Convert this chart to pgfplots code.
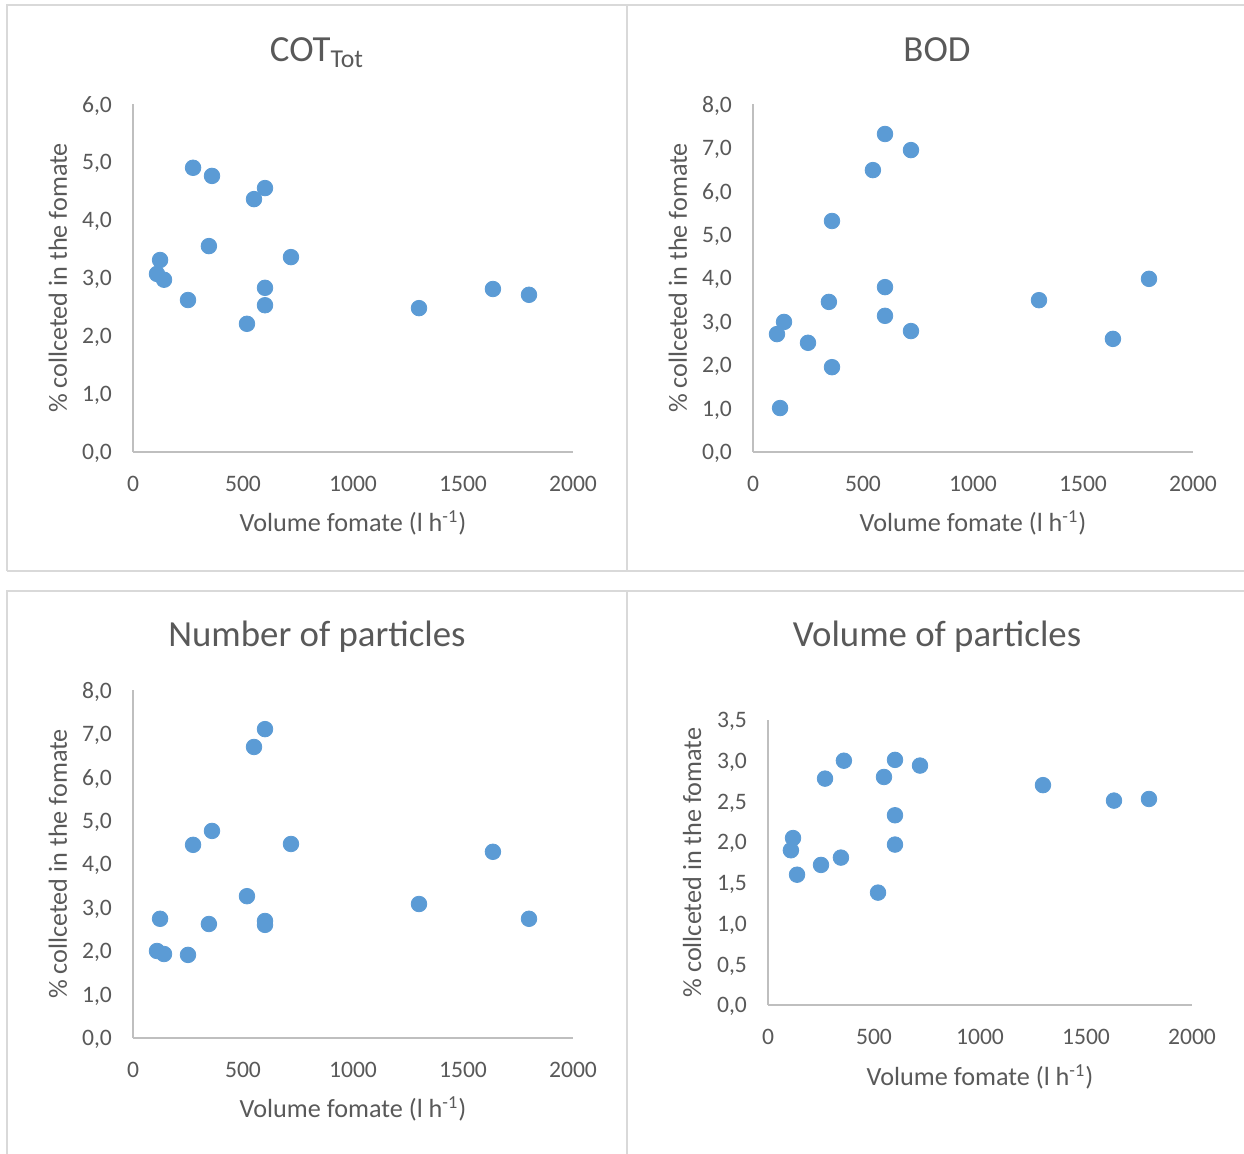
\documentclass[border=0pt]{standalone}
\usepackage{fontspec}
\setmainfont{Carlito}
\usepackage{pgfplots}
\usepackage{pgfplotstable}
\pgfplotsset{compat=1.18}
\definecolor{txt}{HTML}{595959}
\definecolor{axc}{HTML}{BFBFBF}
\definecolor{brd}{HTML}{D9D9D9}
\definecolor{dotblue}{HTML}{5B9BD5}

\pgfplotstableread{
x y
109 3.07
123 3.31
141 2.97
250 2.62
273 4.90
345 3.55
359 4.76
518 2.21
550 4.36
600 4.55
600 2.83
600 2.53
718 3.36
1300 2.48
1636 2.81
1800 2.71
}\cot
\pgfplotstableread{
x y
109 2.71
123 1.01
141 2.99
250 2.51
345 3.45
359 5.31
359 1.95
545 6.48
600 7.31
600 3.79
600 3.13
718 6.94
718 2.78
1300 3.49
1636 2.60
1800 3.98
}\bod
\pgfplotstableread{
x y
109 2.00
123 2.74
141 1.93
250 1.91
273 4.44
345 2.62
359 4.76
518 3.26
550 6.69
600 7.10
600 2.69
600 2.60
718 4.46
1300 3.08
1636 4.28
1800 2.74
}\num
\pgfplotstableread{
x y
108 1.90
118 2.05
137 1.60
250 1.72
269 2.78
344 1.81
358 3.00
519 1.38
547 2.80
599 3.01
599 2.33
599 1.97
717 2.94
1297 2.70
1632 2.51
1797 2.53
}\vol

\pgfplotsset{
  excel/.style={
    scale only axis,
    clip=false,
    anchor=south west,
    xmin=0, xmax=2000, ymin=0,
    axis x line=bottom, axis y line=left,
    axis line style={-, draw=axc, line width=0.75pt},
    major tick length=0pt,
    xtick={0,500,1000,1500,2000},
    /pgf/number format/assume math mode=true,
    tick label style={font=\fontsize{11.8}{14}\selectfont, text=txt},
    xticklabel={\pgfmathprintnumber[fixed,1000 sep={}]{\tick}},
    yticklabel={\pgfmathprintnumber[fixed,fixed zerofill,precision=1,use comma]{\tick}},
    xticklabel style={yshift=-8.5pt},
    yticklabel style={xshift=-7pt, yshift=-0.8pt},
    label style={font=\fontsize{13.1}{15}\selectfont, text=txt},
    xlabel={Volume fomate (l h\textsuperscript{-1})},
    ylabel={\% collceted in the fomate},
  },
  dot/.style={only marks, mark=*, mark size=3.9pt, color=dotblue,
      mark options={fill=dotblue, draw=dotblue}},
}

\begin{document}
\begin{tikzpicture}
\useasboundingbox (0,0) rectangle (622pt,577pt);
% panel borders
\begin{scope}[draw=brd, line width=1pt]
\draw (3.5pt,291.5pt) -- (3.5pt,574.5pt) -- (625pt,574.5pt);
\draw (3.5pt,291.5pt) -- (625pt,291.5pt);
\draw (313.5pt,291.5pt) -- (313.5pt,574.5pt);
\draw (3.5pt,-2pt) -- (3.5pt,281.5pt) -- (625pt,281.5pt);
\draw (313.5pt,-2pt) -- (313.5pt,281.5pt);
\end{scope}
% titles
\begin{scope}[every node/.style={anchor=base, text=txt, font=\fontsize{18.4}{22}\selectfont, inner sep=0pt}]
\node at (158.5pt,546pt) {COT\textsubscript{Tot}};
\node at (468.5pt,546pt) {BOD};
\node at (158.5pt,253.5pt) {Number of particles};
\node at (468.5pt,253.5pt) {Volume of particles};
\end{scope}

\begin{axis}[excel, at={(66.5pt,351pt)}, width=220pt, height=174pt,
  ymax=6, ytick={0,1,...,6},
  xlabel style={at={(axis description cs:0.5,-0.204)}, anchor=center},
  ylabel style={at={(axis description cs:-0.1705,0.5)}, anchor=center}]
\addplot[dot] table[x=x,y=y] {\cot};
\end{axis}

\begin{axis}[excel, at={(376.5pt,351pt)}, width=220pt, height=174pt,
  ymax=8, ytick={0,1,...,8},
  xlabel style={at={(axis description cs:0.5,-0.204)}, anchor=center},
  ylabel style={at={(axis description cs:-0.1705,0.5)}, anchor=center}]
\addplot[dot] table[x=x,y=y] {\bod};
\end{axis}

\begin{axis}[excel, at={(66.5pt,58pt)}, width=220pt, height=174pt,
  ymax=8, ytick={0,1,...,8},
  xlabel style={at={(axis description cs:0.5,-0.204)}, anchor=center},
  ylabel style={at={(axis description cs:-0.1705,0.5)}, anchor=center}]
\addplot[dot] table[x=x,y=y] {\num};
\end{axis}

\begin{axis}[excel, at={(384pt,74.5pt)}, width=212pt, height=142.5pt,
  ymax=3.5, ytick={0,0.5,...,3.5},
  xlabel style={at={(axis description cs:0.5,-0.252)}, anchor=center},
  ylabel style={at={(axis description cs:-0.179,0.5)}, anchor=center}]
\addplot[dot] table[x=x,y=y] {\vol};
\end{axis}
\end{tikzpicture}
\end{document}
